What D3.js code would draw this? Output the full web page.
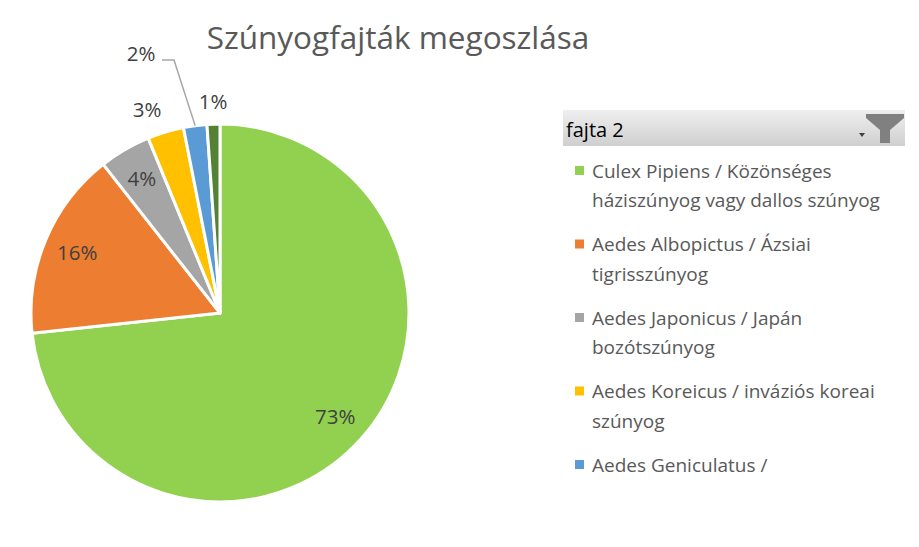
<!DOCTYPE html>
<html>
<head>
<meta charset="utf-8">
<script src="https://cdn.jsdelivr.net/npm/d3@7"></script>
<style>
  body { margin: 0; background: #fff; }
  svg { font-family: "Open Sans", "Noto Sans", sans-serif; }
</style>
</head>
<body>
<script>
// data
var categories = [
  "Culex Pipiens / Közönséges háziszúnyog vagy dallos szúnyog",
  "Aedes Albopictus / Ázsiai tigrisszúnyog",
  "Aedes Japonicus / Japán bozótszúnyog",
  "Aedes Koreicus / inváziós koreai szúnyog",
  "Aedes Geniculatus /",
  "egyéb"
];
var values = [733, 161, 44, 31, 20, 11];
var colors = ["#92D050", "#ED7D31", "#A5A5A5", "#FFC000", "#5B9BD5", "#548235"];
// legend lines as wrapped in the original
var legendLines = [
  ["Culex Pipiens / Közönséges", "háziszúnyog vagy dallos szúnyog"],
  ["Aedes Albopictus / Ázsiai", "tigrisszúnyog"],
  ["Aedes Japonicus / Japán", "bozótszúnyog"],
  ["Aedes Koreicus / inváziós koreai", "szúnyog"],
  ["Aedes Geniculatus /"]
];
var title = "Szúnyogfajták megoszlása";
var legendTitle = "fajta 2";

var width = 919, height = 547;
var cx = 220, cy = 313, radius = 189;

var svg = d3.select("body").append("svg")
    .attr("width", width)
    .attr("height", height);

// title
svg.append("text")
    .attr("x", 398)
    .attr("y", 49)
    .attr("text-anchor", "middle")
    .style("font-size", "31.5px")
    .style("fill", "#595959")
    .text(title);

var data = categories.map(function(c, i){ return {name: c, value: values[i], color: colors[i]}; });
var total = d3.sum(values);

var pie = d3.pie().sort(null).value(function(d){ return d.value; });
var arc = d3.arc().innerRadius(0).outerRadius(radius);
var labelArc = d3.arc().innerRadius(radius * 0.82).outerRadius(radius * 0.82);

var arcs = pie(data);

var g = svg.append("g")
    .attr("transform", "translate(" + cx + "," + cy + ")");

g.selectAll(".slice")
    .data(arcs)
    .enter()
    .append("path")
    .classed("slice", true)
    .attr("d", arc)
    .style("fill", function(d){ return d.data.color; })
    .style("stroke", "#fff")
    .style("stroke-width", 3)
    .style("stroke-linejoin", "round");

function pct(d){ return Math.round(d.data.value / total * 100) + "%"; }

// labels: the big slices inside, the small ones outside
var outside = {3: [-73, -203], 4: [-79, -259], 5: [-7, -211]};
g.selectAll(".label")
    .data(arcs)
    .enter()
    .append("text")
    .classed("label", true)
    .attr("transform", function(d, i){
        if (outside[i]) return "translate(" + outside[i] + ")";
        return "translate(" + labelArc.centroid(d) + ")";
    })
    .attr("dy", "0.36em")
    .attr("text-anchor", "middle")
    .style("font-size", "20.5px")
    .style("fill", "#404040")
    .text(pct);

// leader line for the 2% slice
var blue = arcs[4];
var edge = d3.arc().innerRadius(radius).outerRadius(radius).centroid(blue);
g.append("polyline")
    .attr("points", [[-58, -253], [-46, -253], edge].map(function(p){ return p.join(","); }).join(" "))
    .style("fill", "none")
    .style("stroke", "#A6A6A6")
    .style("stroke-width", 1.5);

// legend (slicer style)
var lx = 563, ly = 110, lw = 342, lh = 36;
var grad = svg.append("defs").append("linearGradient")
    .attr("id", "hdr").attr("x1", 0).attr("y1", 0).attr("x2", 0).attr("y2", 1);
grad.append("stop").attr("offset", "0%").attr("stop-color", "#EFEFEF");
grad.append("stop").attr("offset", "100%").attr("stop-color", "#CFCFCF");

svg.append("rect")
    .attr("x", lx).attr("y", ly)
    .attr("width", lw).attr("height", lh)
    .style("fill", "url(#hdr)");

svg.append("text")
    .attr("x", lx + 3)
    .attr("y", ly + 27)
    .style("font-size", "20px")
    .style("fill", "#000")
    .text(legendTitle);

// filter icon
svg.append("path")
    .attr("d", "M866,114 L904,114 L904,118 L890,130 L890,143 L880,143 L880,130 L866,118 Z")
    .style("fill", "#808080");
svg.append("path")
    .attr("d", "M859,133 L865,133 L862,137 Z")
    .style("fill", "#404040");

var legend = svg.append("g");
var item = legend.selectAll(".item")
    .data(legendLines)
    .enter()
    .append("g")
    .classed("item", true)
    .attr("transform", function(d, i){ return "translate(" + lx + "," + (ly + 61 + i * 73.5) + ")"; });

item.append("rect")
    .attr("x", 12).attr("y", -5)
    .attr("width", 9).attr("height", 9)
    .style("fill", function(d, i){ return colors[i]; });

item.selectAll("text")
    .data(function(d){ return d; })
    .enter()
    .append("text")
    .attr("x", 29)
    .attr("y", function(d, j){ return j * 29.5; })
    .attr("dy", "0.36em")
    .style("font-size", "19px")
    .style("fill", "#595959")
    .text(function(d){ return d; });
</script>
</body>
</html>
